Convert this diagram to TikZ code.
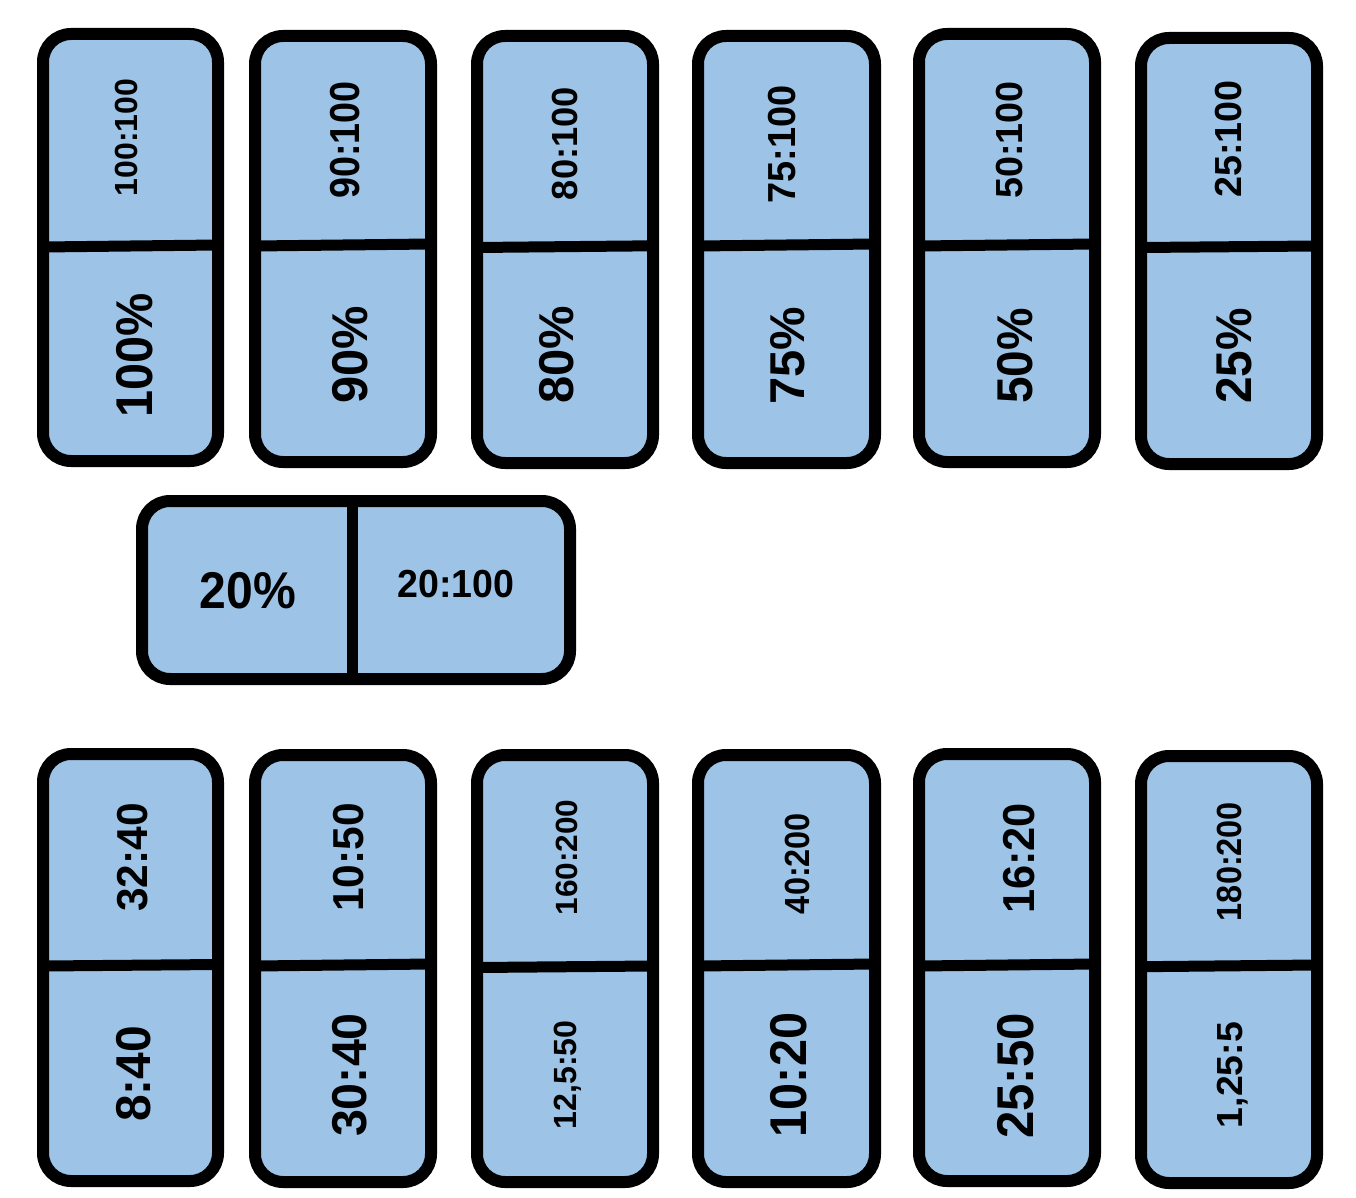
\documentclass[tikz,border=0pt]{standalone}
\usepackage{fontspec}
\setmainfont{Liberation Sans}
\definecolor{dfill}{RGB}{157,195,230}
\newcommand\lt[3]{\fontsize{#1pt}{#1pt}\selectfont\scalebox{#2}[1]{#3}}
\tikzset{
  domino/.style={draw=black, fill=dfill, line width=12pt, rounded corners=28pt,
    rectangle, outer sep=0pt, inner sep=0pt},
  divider/.style={draw=black, line width=11pt},
  lab/.style={inner sep=0pt, outer sep=0pt, text depth=0pt, font=\bfseries, text=black},
  vlab/.style={lab, rotate=90}
}
\begin{document}
\begin{tikzpicture}[x=1pt,y=-1pt]
\useasboundingbox[fill=white] (0,0) rectangle (1356,1198);
% ---------- top row ----------
\node[domino, minimum width=175pt, minimum height=427pt] (d1) at (130.5,247.5) {};
\node[domino, minimum width=176pt, minimum height=426pt] (d2) at (343,249) {};
\node[domino, minimum width=176pt, minimum height=427pt] (d3) at (565,249.5) {};
\node[domino, minimum width=177pt, minimum height=427pt] (d4) at (786.5,249.5) {};
\node[domino, minimum width=176pt, minimum height=428pt] (d5) at (1007,248) {};
\node[domino, minimum width=176pt, minimum height=426pt] (d6) at (1229,251) {};
\draw[divider] (d1.west |- 0,247) -- (d1.east |- 0,245);
\draw[divider] (d2.west |- 0,246) -- (d2.east |- 0,244);
\draw[divider] (d3.west |- 0,247.5) -- (d3.east |- 0,245.8);
\draw[divider] (d4.west |- 0,246) -- (d4.east |- 0,244);
\draw[divider] (d5.west |- 0,246) -- (d5.east |- 0,244);
\draw[divider] (d6.west |- 0,247.5) -- (d6.east |- 0,246);
\node[vlab] (d1a) at (126.5,137.5) {\lt{32}{1.0}{100:100}};
\node[vlab] (d1b) at (134.5,355) {\lt{51.7}{0.94}{100\%}};
\node[vlab] (d2a) at (345,140) {\lt{41.9}{0.90}{90:100}};
\node[vlab] (d2b) at (349.5,355) {\lt{50.3}{0.97}{90\%}};
\node[vlab] (d3a) at (565,143.5) {\lt{36.3}{1.0}{80:100}};
\node[vlab] (d3b) at (556.5,355) {\lt{48.9}{1.0}{80\%}};
\node[vlab] (d4a) at (782,144.5) {\lt{39.1}{0.97}{75:100}};
\node[vlab] (d4b) at (787.5,355.5) {\lt{48.9}{1.0}{75\%}};
\node[vlab] (d5a) at (1009.5,140) {\lt{37.7}{1.0}{50:100}};
\node[vlab] (d5b) at (1015,356) {\lt{50.3}{0.95}{50\%}};
\node[vlab] (d6a) at (1228.5,139) {\lt{37.7}{1.0}{25:100}};
\node[vlab] (d6b) at (1234,356) {\lt{50.3}{0.95}{25\%}};
% ---------- middle ----------
\node[domino, minimum width=428pt, minimum height=178pt] (m) at (356,590) {};
\draw[divider] (m.north -| 352,0) -- (m.south -| 352,0);
\node[lab] (ma) at (248,590.5) {\lt{51.7}{0.93}{20\%}};
\node[lab] (mb) at (456,584) {\lt{39.1}{0.96}{20:100}};
% ---------- bottom row ----------
\node[domino, minimum width=175pt, minimum height=427pt] (b1) at (130.5,967.5) {};
\node[domino, minimum width=176pt, minimum height=427pt] (b2) at (343,968.5) {};
\node[domino, minimum width=176pt, minimum height=427pt] (b3) at (565,968.5) {};
\node[domino, minimum width=177pt, minimum height=427pt] (b4) at (786.5,968.5) {};
\node[domino, minimum width=176pt, minimum height=427pt] (b5) at (1007,967.5) {};
\node[domino, minimum width=176pt, minimum height=427pt] (b6) at (1229,969.5) {};
\draw[divider] (b1.west |- 0,966) -- (b1.east |- 0,964.5);
\draw[divider] (b2.west |- 0,966) -- (b2.east |- 0,964);
\draw[divider] (b3.west |- 0,967.5) -- (b3.east |- 0,966);
\draw[divider] (b4.west |- 0,966) -- (b4.east |- 0,964);
\draw[divider] (b5.west |- 0,966) -- (b5.east |- 0,964);
\draw[divider] (b6.west |- 0,966.7) -- (b6.east |- 0,965);
\node[vlab] (b1a) at (132.5,857.5) {\lt{43.3}{0.98}{32:40}};
\node[vlab] (b1b) at (133.5,1074) {\lt{48.9}{0.98}{8:40}};
\node[vlab] (b2a) at (348.5,857.5) {\lt{43.3}{0.98}{10:50}};
\node[vlab] (b2b) at (349.5,1075) {\lt{48.9}{0.99}{30:40}};
\node[vlab] (b3a) at (567,857.5) {\lt{30.7}{1.03}{160:200}};
\node[vlab] (b3b) at (565.5,1075) {\lt{32.1}{1.0}{12,5:50}};
\node[vlab] (b4a) at (797.5,863.5) {\lt{34.9}{0.93}{40:200}};
\node[vlab] (b4b) at (788.5,1075) {\lt{51.7}{0.94}{10:20}};
\node[vlab] (b5a) at (1019,858.5) {\lt{44.7}{0.97}{16:20}};
\node[vlab] (b5b) at (1015.5,1076) {\lt{51.7}{0.95}{25:50}};
\node[vlab] (b6a) at (1229.5,861.5) {\lt{34.9}{0.93}{180:200}};
\node[vlab] (b6b) at (1230,1075) {\lt{36.3}{1.03}{1,25:5}};
\end{tikzpicture}
\end{document}
